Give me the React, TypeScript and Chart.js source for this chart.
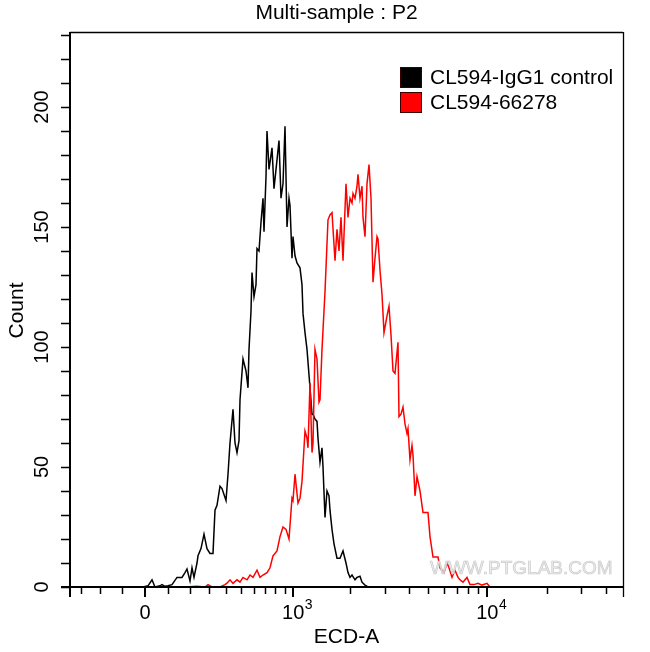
import React, { useEffect, useRef } from "react";
import { Chart, registerables } from "chart.js";

Chart.register(...registerables);

const TITLE = "Multi-sample : P2";
const X_TITLE = "ECD-A";
const Y_TITLE = "Count";
const SERIES_NAMES = ["CL594-IgG1 control", "CL594-66278"];
const SERIES_COLORS = ["#000000", "#ff0000"];
const WATERMARK = "WWW.PTGLAB.COM";

// Histogram bins on the biexponential display axis (display channel, 0 = zero intensity)
const controlChannels = [
  -2, 3, 7, 10, 15, 17, 20, 23, 27, 32, 37, 40, 42, 45, 47, 49, 52, 53, 56, 59, 62, 65, 68, 70, 72, 75, 77, 81, 83, 85,
  88, 90, 92, 94, 95, 98, 101, 103, 104, 106, 107, 109, 111, 112, 114, 116, 118, 119, 121, 122, 124, 127, 129, 132,
  134, 136, 138, 140, 142, 144, 145, 147, 148, 150, 152, 155, 157, 158, 160, 162, 165, 167, 168, 170, 172, 173, 175,
  177, 178, 180, 182, 184, 185, 187, 189, 192, 195, 198, 201, 203, 205, 207, 210, 212, 215, 217, 220, 223, 230,
];
const controlCounts = [
  0, 0.5, 3, 0, 0.5, 1, 0.3, 0.5, 1, 4, 4, 6, 7.5, 2.5, 8, 4, 10, 13, 16, 22, 16, 14, 14, 32, 34, 42, 41, 36, 47, 60,
  74, 60, 56, 61, 78, 95, 90, 83, 99, 115, 131, 121, 126, 141, 140, 152, 162, 148, 171, 190, 174, 183, 166, 178,
  186, 162, 168, 192, 150, 162, 159, 137, 146, 138, 135, 133, 126, 114, 106, 99, 83, 72, 72, 70, 69, 62, 52,
  58, 50, 29, 40, 38, 32, 24, 18, 12, 12, 15, 10, 6, 4, 5, 3, 4, 4.5, 2, 0.8, 0, 0,
];

const stainedChannels = [
  40, 52, 60, 63, 67, 75, 80, 82, 85, 88, 92, 95, 98, 102, 105, 108, 112, 115, 118, 122, 125, 128, 132, 135, 138, 141,
  144, 147, 148, 150, 153, 155, 157, 160, 162, 163, 165, 167, 168, 170, 172, 174, 175, 177, 180, 183, 185, 187, 190,
  192, 194, 196, 198, 201, 203, 205, 207, 208, 210, 212, 213, 215, 217, 218, 220, 222, 224, 226, 228, 230, 232, 233,
  235, 237, 239, 242, 244, 246, 248, 250, 253, 254, 256, 258, 260, 262, 263, 265, 267, 268, 270, 272, 275, 278, 283,
  285, 288, 293, 295, 297, 299, 302, 304, 307, 310, 313, 315, 318, 320, 322, 325, 329, 333, 337, 342, 345,
];
const stainedCounts = [
  0, 0.3, 0, 1, 0, 0, 1, 1.6, 3, 1.5, 3, 2, 4, 3, 5, 4, 7, 4, 5, 6, 8, 13, 15, 21, 25, 24,
  20, 37, 36, 47, 35, 37, 44, 65, 62, 58, 85, 56, 60, 99, 95, 77, 78, 99, 123, 153, 155, 156, 136,
  149, 140, 154, 136, 168, 154, 162, 160, 164, 162, 167, 172, 162, 167, 154, 146, 168, 176, 162, 127, 137, 146, 145,
  132, 122, 106, 113, 117, 105, 90, 89, 102, 71, 72, 75, 68, 64, 66, 53, 59, 55, 38, 46, 40, 31, 31,
  21, 12.5, 12.5, 8, 7, 6, 10, 8, 4, 7, 4, 3, 2, 3, 4, 1, 1, 1.5, 0.8, 1.5, 0,
];

// Axis definitions
const Y_MAX = 231.25;
const Y_MAJOR_TICKS = [0, 50, 100, 150, 200];
const Y_MINOR_TICKS = [10, 20, 30, 40, 60, 70, 80, 90, 110, 120, 130, 140, 160, 170, 180, 190, 210, 220, 230];
const X_MAJOR_TICKS = [0, 1000, 10000];
const X_MAJOR_LABELS = [
  { base: "0", exp: "" },
  { base: "10", exp: "3" },
  { base: "10", exp: "4" },
];
const X_MINOR_TICKS = [
  -300, -200, -100, 100, 200, 300, 400, 500, 600, 700, 800, 900, 2000, 3000, 4000, 5000, 6000, 7000, 8000, 9000,
  20000, 30000, 40000,
];
const X_DISPLAY_MIN = -75;
const X_DISPLAY_MAX = 478;

// biexponential-like display transform (intensity -> display channel)
const DISPLAY_GAIN = 85.5;
const DISPLAY_WIDTH = 365;
const toDisplay = (v: number) => DISPLAY_GAIN * Math.asinh(v / DISPLAY_WIDTH);

const FONT = '"Liberation Sans", Arial, Helvetica, sans-serif';

const decorPlugin = {
  id: "flowDecor",
  afterDatasetsDraw(chart: any) {
    const { ctx, chartArea } = chart;
    const xs = chart.scales.x;
    const ys = chart.scales.y;
    const L = chartArea.left;
    const R = chartArea.right;
    const T = chartArea.top;
    const B = chartArea.bottom;
    ctx.save();

    // watermark (behind axes)
    ctx.font = `19px ${FONT}`;
    ctx.textAlign = "left";
    ctx.textBaseline = "alphabetic";
    ctx.fillStyle = "rgba(235,235,235,0.9)";
    ctx.strokeStyle = "rgba(195,195,195,0.85)";
    ctx.lineWidth = 0.7;
    ctx.fillText(WATERMARK, 430, 574);
    ctx.strokeText(WATERMARK, 430, 574);

    ctx.strokeStyle = "#000";
    ctx.lineCap = "butt";

    // frame top & right
    ctx.lineWidth = 1.3;
    ctx.beginPath();
    ctx.moveTo(L, T + 0.5);
    ctx.lineTo(R, T + 0.5);
    ctx.moveTo(R + 0.5, T);
    ctx.lineTo(R + 0.5, B + 10);
    ctx.stroke();

    // left & bottom axes
    ctx.lineWidth = 2;
    ctx.beginPath();
    ctx.moveTo(L, T);
    ctx.lineTo(L, B + 10);
    ctx.moveTo(L - 9, B);
    ctx.lineTo(R, B);
    ctx.stroke();

    // y ticks
    ctx.lineWidth = 1.5;
    ctx.beginPath();
    [...Y_MAJOR_TICKS, ...Y_MINOR_TICKS].forEach((v) => {
      const y = Math.round(ys.getPixelForValue(v)) + 0.5;
      ctx.moveTo(L - 9, y);
      ctx.lineTo(L, y);
    });
    ctx.stroke();

    // x ticks
    ctx.beginPath();
    X_MINOR_TICKS.forEach((v) => {
      const x = Math.round(xs.getPixelForValue(toDisplay(v))) + 0.5;
      ctx.moveTo(x, B);
      ctx.lineTo(x, B + 7);
    });
    ctx.stroke();
    ctx.lineWidth = 2;
    ctx.beginPath();
    X_MAJOR_TICKS.forEach((v) => {
      const x = Math.round(xs.getPixelForValue(toDisplay(v)));
      ctx.moveTo(x, B);
      ctx.lineTo(x, B + 10);
    });
    ctx.stroke();

    ctx.fillStyle = "#000";
    // y labels (rotated)
    ctx.font = `20px ${FONT}`;
    ctx.textAlign = "center";
    ctx.textBaseline = "middle";
    Y_MAJOR_TICKS.forEach((v) => {
      const y = ys.getPixelForValue(v);
      ctx.save();
      ctx.translate(L - 29, y);
      ctx.rotate(-Math.PI / 2);
      ctx.fillText(String(v), 0, 1);
      ctx.restore();
    });

    // x labels
    X_MAJOR_TICKS.forEach((v, i) => {
      const x = xs.getPixelForValue(toDisplay(v));
      const lab = X_MAJOR_LABELS[i];
      ctx.font = `20px ${FONT}`;
      const bw = ctx.measureText(lab.base).width;
      ctx.textAlign = "left";
      ctx.textBaseline = "alphabetic";
      const startX = x - bw / 2;
      ctx.fillText(lab.base, startX, 619);
      if (lab.exp) {
        ctx.font = `14px ${FONT}`;
        ctx.fillText(lab.exp, startX + bw + 0.5, 609);
      }
    });

    // axis titles
    ctx.font = `21px ${FONT}`;
    ctx.textAlign = "center";
    ctx.textBaseline = "middle";
    ctx.fillText(X_TITLE, (L + R) / 2, 637);
    ctx.save();
    ctx.translate(17, (T + B) / 2 + 1);
    ctx.rotate(-Math.PI / 2);
    ctx.fillText(Y_TITLE, 0, 0);
    ctx.restore();

    // title
    ctx.fillText(TITLE, (L + R) / 2 - 10, 13);

    // legend
    const legendRows = [77, 102];
    SERIES_NAMES.forEach((name, i) => {
      const cy = legendRows[i];
      ctx.fillStyle = SERIES_COLORS[i];
      ctx.fillRect(400, cy - 10, 22, 21);
      ctx.strokeStyle = "#3a0000";
      ctx.lineWidth = 1;
      ctx.strokeRect(400.5, cy - 9.5, 21, 20);
      ctx.fillStyle = "#000";
      ctx.textAlign = "left";
      ctx.textBaseline = "middle";
      ctx.font = `21px ${FONT}`;
      ctx.fillText(name, 430, cy + 1);
    });

    ctx.restore();
  },
};

export default function App() {
  const ref = useRef<HTMLCanvasElement | null>(null);
  useEffect(() => {
    if (!ref.current) return;
    const toPoints = (xs: number[], ys: number[]) => xs.map((x, i) => ({ x, y: ys[i] }));
    const chart = new Chart(ref.current, {
      type: "line",
      data: {
        datasets: [
          {
            label: SERIES_NAMES[0],
            data: toPoints(controlChannels, controlCounts),
            borderColor: SERIES_COLORS[0],
            borderWidth: 1.5,
            pointRadius: 0,
            tension: 0,
            fill: false,
            order: 1,
          },
          {
            label: SERIES_NAMES[1],
            data: toPoints(stainedChannels, stainedCounts),
            borderColor: SERIES_COLORS[1],
            borderWidth: 1.5,
            pointRadius: 0,
            tension: 0,
            fill: false,
            order: 0,
          },
        ],
      },
      options: {
        responsive: false,
        animation: false,
        devicePixelRatio: 1,
        layout: { padding: { left: 70, top: 32, right: 27, bottom: 65 } },
        plugins: { legend: { display: false }, tooltip: { enabled: false }, title: { display: false } },
        scales: {
          x: { type: "linear", min: X_DISPLAY_MIN, max: X_DISPLAY_MAX, display: false },
          y: { type: "linear", min: 0, max: Y_MAX, display: false },
        },
      },
      plugins: [decorPlugin],
    });
    return () => chart.destroy();
  }, []);
  return (
    <div style={{ position: "absolute", left: 0, top: 0, width: 650, height: 652, background: "#fff" }}>
      <canvas ref={ref} width={650} height={652} style={{ width: 650, height: 652, display: "block" }} />
    </div>
  );
}
